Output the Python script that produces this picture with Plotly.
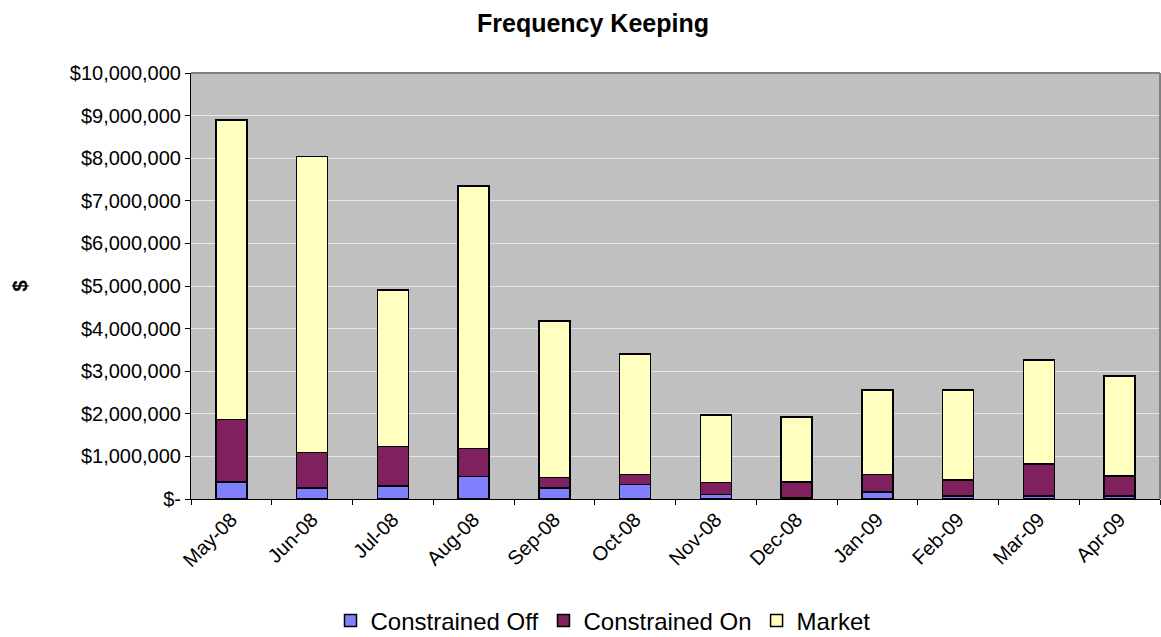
import plotly.graph_objects as go

months = ["May-08", "Jun-08", "Jul-08", "Aug-08", "Sep-08", "Oct-08",
          "Nov-08", "Dec-08", "Jan-09", "Feb-09", "Mar-09", "Apr-09"]

constrained_off = [400000, 260000, 300000, 530000, 260000, 340000,
                   110000, 40000, 170000, 70000, 75000, 75000]
constrained_on = [1470000, 830000, 930000, 650000, 240000, 240000,
                  280000, 360000, 410000, 380000, 745000, 465000]
market = [7030000, 6950000, 3680000, 6170000, 3680000, 2820000,
          1580000, 1520000, 1980000, 2110000, 2440000, 2350000]

y_ticks = [i * 1000000 for i in range(11)]
y_tick_text = ["$-"] + [f"${v:,}" for v in y_ticks[1:]]

series = [
    ("Constrained Off", constrained_off, "#8080FF"),
    ("Constrained On", constrained_on, "#80205F"),
    ("Market", market, "#FFFFC0"),
]

font_family = "Liberation Sans, Arial, sans-serif"

fig = go.Figure()
for name, values, color in series:
    fig.add_trace(go.Bar(
        x=months, y=values, name=name,
        marker=dict(color=color, line=dict(color="#000000", width=1.5)),
        width=0.385,
    ))

fig.update_layout(
    barmode="stack",
    width=1161, height=637,
    margin=dict(l=191, r=1, t=73, b=138, autoexpand=False),
    paper_bgcolor="#FFFFFF",
    plot_bgcolor="#C0C0C0",
    font=dict(family=font_family, size=20, color="#000000"),
    title=dict(
        text="<b>Frequency Keeping</b>",
        x=593 / 1161, xref="container", xanchor="center",
        y=1 - 23 / 637, yref="container", yanchor="middle",
        font=dict(size=25, family=font_family),
    ),
    showlegend=True,
    legend=dict(
        orientation="h",
        x=(603 - 191) / 969, xanchor="center",
        y=-(621 - 499) / 426, yanchor="middle",
        font=dict(size=24, family=font_family),
        traceorder="normal",
        itemwidth=30,
        tracegroupgap=0,
    ),
)

fig.update_xaxes(
    type="category",
    automargin=False,
    tickangle=-45,
    tickson="boundaries",
    ticks="outside",
    ticklen=5,
    tickcolor="#000000",
    showline=True, linecolor="#000000", linewidth=1,
    showgrid=False,
    tickfont=dict(size=20),
)

fig.update_yaxes(
    automargin=False,
    range=[0, 10000000],
    tickvals=y_ticks,
    ticktext=y_tick_text,
    ticks="outside",
    ticklen=5,
    tickcolor="#000000",
    showline=True, linecolor="#000000", linewidth=1,
    showgrid=True, gridcolor="#E6E6E6", gridwidth=1,
    zeroline=False,
    tickfont=dict(size=20),
    title=dict(text="<b>$</b>", font=dict(size=21), standoff=36),
)

# grey frame on the top and right edges of the plotting area
fig.add_shape(type="line", xref="paper", yref="paper",
              x0=0, x1=1, y0=1, y1=1,
              line=dict(color="#808080", width=2), layer="above")
fig.add_shape(type="line", xref="paper", yref="paper",
              x0=1, x1=1, y0=0, y1=1,
              line=dict(color="#808080", width=2), layer="above")

fig.write_html("out.html")
